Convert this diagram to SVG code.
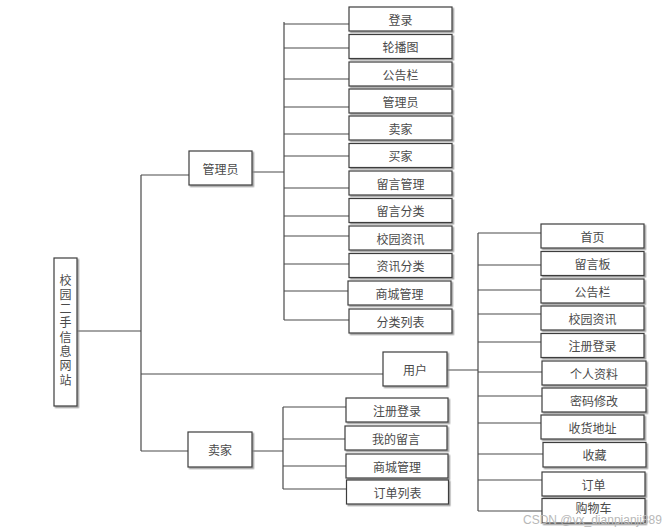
<svg xmlns="http://www.w3.org/2000/svg" width="669" height="531" viewBox="0 0 669 531">
<defs>
<filter id="sh" x="-10%" y="-10%" width="130%" height="140%">
<feDropShadow dx="1.5" dy="1.5" stdDeviation="0.6" flood-color="#888" flood-opacity="0.8"/>
</filter>
<style>
.b{fill:#fff;stroke:#3c3c3c;stroke-width:1.2;filter:url(#sh)}
.t{font-family:"Noto Sans CJK SC","Liberation Serif",serif;font-size:12px;fill:#4a4a4a;text-anchor:middle;dominant-baseline:central}
.v{font-family:"Noto Sans CJK SC","Liberation Serif",serif;font-size:12px;fill:#4a4a4a;writing-mode:vertical-rl;letter-spacing:2.3px}
.c{fill:none;stroke:#4a4a4a;stroke-width:1.2}
.wm{font-family:"Liberation Sans",sans-serif;font-size:12px;fill:#b8b8b8}
</style>
</defs>
<rect width="669" height="531" fill="#fff"/>
<g id="connectors" class="c">
<path d="M77 331H141M141 175V451M141 175H189M141 374H383M141 451H188"/>
<path d="M252 172H284M284 22V320M284 24H349M284 48H349M284 79H349M284 107H349M284 134H349M284 156H349M284 188H349M284 216H349M284 236H349M284 264H349M284 291H349M284 320H349"/>
<path d="M447 370H478M478 233V511M478 233H541M478 265H541M478 290H541M478 314H541M478 342H541M478 372H542M478 396H542M478 423H541M478 454H543M478 480H542M478 511H542"/>
<path d="M252 451H283M283 407V489M283 407H346M283 439H345M283 466H346M283 489H346"/>
</g>
<g id="root"><rect class="b" x="54" y="258" width="23" height="148"/>
<text class="v" x="65.5" y="274">校园二手信息网站</text></g>
<g id="admin"><rect class="b" x="189" y="151" width="63" height="34"/><text class="t" x="220.5" y="168">管理员</text></g>
<g id="user"><rect class="b" x="383" y="352" width="64" height="34"/><text class="t" x="415" y="369">用户</text></g>
<g id="seller"><rect class="b" x="188" y="432" width="64" height="35"/><text class="t" x="220" y="449.5">卖家</text></g>
<g id="a1"><rect class="b" x="349" y="7" width="103" height="24"/><text class="t" x="400.5" y="19">登录</text></g>
<g id="a2"><rect class="b" x="349" y="34.5" width="103" height="24"/><text class="t" x="400.5" y="46.5">轮播图</text></g>
<g id="a3"><rect class="b" x="349" y="62" width="103" height="24"/><text class="t" x="400.5" y="74">公告栏</text></g>
<g id="a4"><rect class="b" x="349" y="89" width="103" height="24"/><text class="t" x="400.5" y="101">管理员</text></g>
<g id="a5"><rect class="b" x="349" y="116" width="103" height="24"/><text class="t" x="400.5" y="128">卖家</text></g>
<g id="a6"><rect class="b" x="349" y="143.5" width="103" height="24"/><text class="t" x="400.5" y="155.5">买家</text></g>
<g id="a7"><rect class="b" x="349" y="171" width="103" height="24"/><text class="t" x="400.5" y="183">留言管理</text></g>
<g id="a8"><rect class="b" x="349" y="198.5" width="103" height="24"/><text class="t" x="400.5" y="210.5">留言分类</text></g>
<g id="a9"><rect class="b" x="349" y="226" width="103" height="24"/><text class="t" x="400.5" y="238">校园资讯</text></g>
<g id="a10"><rect class="b" x="349" y="253.5" width="103" height="24"/><text class="t" x="400.5" y="265.5">资讯分类</text></g>
<g id="a11"><rect class="b" x="348" y="281" width="103" height="24"/><text class="t" x="399.5" y="293">商城管理</text></g>
<g id="a12"><rect class="b" x="349" y="309" width="103" height="24"/><text class="t" x="400.5" y="321">分类列表</text></g>
<g id="u1"><rect class="b" x="541" y="224" width="103" height="24"/><text class="t" x="592.5" y="236">首页</text></g>
<g id="u2"><rect class="b" x="541" y="251.5" width="103" height="24"/><text class="t" x="592.5" y="263.5">留言板</text></g>
<g id="u3"><rect class="b" x="541" y="279" width="103" height="24"/><text class="t" x="592.5" y="291">公告栏</text></g>
<g id="u4"><rect class="b" x="541" y="306" width="103" height="24"/><text class="t" x="592.5" y="318">校园资讯</text></g>
<g id="u5"><rect class="b" x="541" y="333.5" width="103" height="24"/><text class="t" x="592.5" y="345.5">注册登录</text></g>
<g id="u6"><rect class="b" x="542" y="361" width="104" height="24"/><text class="t" x="594" y="373">个人资料</text></g>
<g id="u7"><rect class="b" x="542" y="388" width="104" height="24"/><text class="t" x="594" y="400">密码修改</text></g>
<g id="u8"><rect class="b" x="541" y="415" width="103" height="24"/><text class="t" x="592.5" y="427">收货地址</text></g>
<g id="u9"><rect class="b" x="543" y="442.5" width="103" height="24.5"/><text class="t" x="594.5" y="454.5">收藏</text></g>
<g id="u10"><rect class="b" x="542" y="472" width="103" height="24"/><text class="t" x="593.5" y="484">订单</text></g>
<g id="u11"><rect class="b" x="542" y="498.5" width="103" height="24.5"/><text class="t" x="593.5" y="507">购物车</text></g>
<g id="s1"><rect class="b" x="346" y="398" width="102" height="24"/><text class="t" x="397" y="410">注册登录</text></g>
<g id="s2"><rect class="b" x="345" y="426" width="102" height="24"/><text class="t" x="396" y="438">我的留言</text></g>
<g id="s3"><rect class="b" x="346" y="454" width="102" height="24"/><text class="t" x="397" y="466">商城管理</text></g>
<g id="s4"><rect class="b" x="346.5" y="480" width="102" height="24"/><text class="t" x="397.5" y="492">订单列表</text></g>
<text class="wm" x="523" y="524">CSDN @vx_dianpianji889</text>
</svg>
